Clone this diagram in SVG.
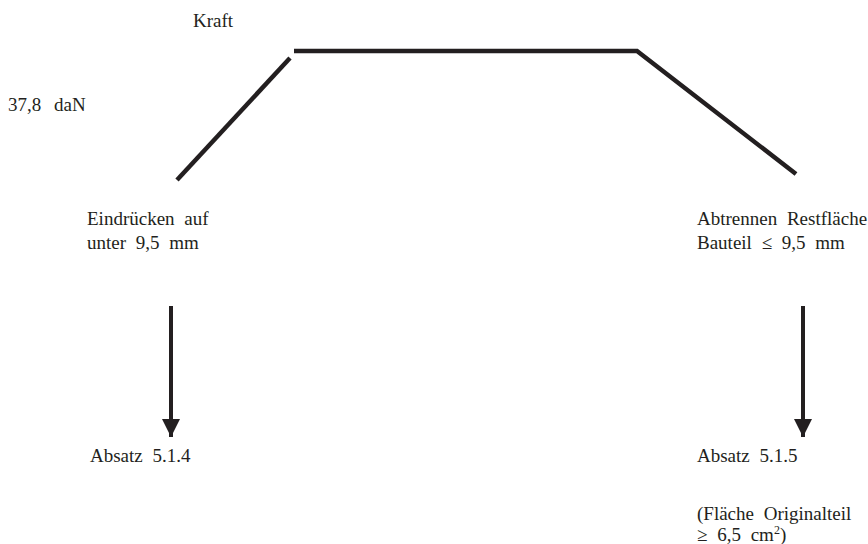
<svg xmlns="http://www.w3.org/2000/svg" width="868" height="544" viewBox="0 0 868 544">
<defs>
<style>
text{font-family:"Liberation Serif","Times New Roman",serif;font-size:19px;fill:#231f20;word-spacing:5px}
.ln{stroke:#231f20;stroke-width:4.5;fill:none;stroke-linecap:butt}
.sh{stroke:#231f20;stroke-width:4;fill:none}
</style>
<marker id="ah" markerUnits="userSpaceOnUse" markerWidth="18" markerHeight="18" refX="16" refY="8" orient="auto" viewBox="0 0 16 16">
<path d="M0,0 L16,8 L0,16 Z" fill="#231f20"/>
</marker>
</defs>
<rect width="868" height="544" fill="#fff"/>
<g id="labels">
<text x="193" y="27">Kraft</text>
<text x="8" y="111" style="word-spacing:8px">37,8 daN</text>
</g>
<g id="curve">
<path class="ln" d="M177,180 L290,58"/>
<path class="ln" d="M294,51 L637,51 L796,174"/>
</g>
<g id="node-left">
<text x="87" y="225">Eindrücken auf</text>
<text x="87" y="249">unter 9,5 mm</text>
</g>
<g id="node-right">
<text x="697" y="225">Abtrennen Restfläche</text>
<text x="697" y="249">Bauteil ≤ 9,5 mm</text>
</g>
<g id="connectors">
<line class="sh" x1="171" y1="306" x2="171" y2="437" marker-end="url(#ah)"/>
<line class="sh" x1="803" y1="306" x2="803" y2="437" marker-end="url(#ah)"/>
</g>
<g id="node-absatz514">
<text x="90" y="462">Absatz 5.1.4</text>
</g>
<g id="node-absatz515">
<text x="697" y="462">Absatz 5.1.5</text>
<text x="697" y="520">(Fläche Originalteil</text>
<text x="697" y="541">≥ 6,5 cm<tspan dy="-7" font-size="12">2</tspan><tspan dy="7">)</tspan></text>
</g>
</svg>
